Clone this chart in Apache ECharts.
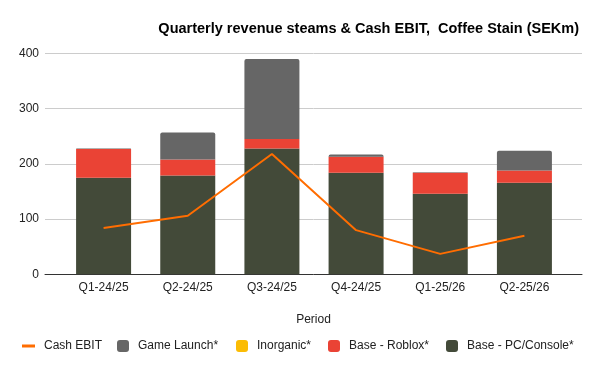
<!DOCTYPE html>
<html>
<head>
<meta charset="utf-8">
<script src="https://cdn.jsdelivr.net/npm/echarts@6/dist/echarts.min.js"></script>
<style>html,body{margin:0;padding:0;background:#fff}#c{width:600px;height:371px}</style>
</head>
<body>
<div id="c"></div>
<script>
const categories = ['Q1-24/25','Q2-24/25','Q3-24/25','Q4-24/25','Q1-25/26','Q2-25/26'];
const basePC = [175, 179, 228, 184, 146, 166];
const baseRoblox = [52, 29, 17, 29, 38, 22];
const inorganic = [0, 0, 0, 0, 0, 0];
const gameLaunch = [1, 49, 145, 4, 1, 36];
const cashEBIT = [84, 106, 218, 80, 37, 70];
const yTicks = [0, 100, 200, 300, 400];

const FONT = 'Liberation Sans, Arial, sans-serif';
const chart = echarts.init(document.getElementById('c'), null, {renderer: 'canvas'});

function lg(name, left, icon, w, h) {
  return {
    data: [name], left: left, top: 340, icon: icon, itemWidth: w, itemHeight: h,
    selectedMode: false, padding: 0,
    textStyle: {fontFamily: FONT, fontSize: 12, color: '#222', padding: [0, 0, 0, 4]}
  };
}

chart.setOption({
  animation: false,
  title: {
    text: 'Quarterly revenue steams & Cash EBIT,  Coffee Stain (SEKm)',
    right: 16, top: 16,
    textStyle: {fontFamily: FONT, fontSize: 14.5, fontWeight: 'bold', color: '#000'}
  },
  legend: [
    lg('Cash EBIT', 22, 'rect', 13, 3),
    lg('Game Launch*', 117, 'roundRect', 12, 12),
    lg('Inorganic*', 236, 'roundRect', 12, 12),
    lg('Base - Roblox*', 328, 'roundRect', 12, 12),
    lg('Base - PC/Console*', 446, 'roundRect', 12, 12)
  ],
  grid: [
    {left: 45, right: 18, top: 53.5, bottom: 96.7},
    {left: 61.5, right: 33.5, top: 53.5, bottom: 96.7}
  ],
  xAxis: [
    {gridIndex: 0, type: 'value', min: 0, max: 1, axisLabel: {show: false}, axisTick: {show: false},
     splitLine: {show: false}, axisLine: {show: true, lineStyle: {color: '#333', width: 1}},
     name: 'Period', nameLocation: 'middle', nameGap: 39,
     nameTextStyle: {fontFamily: FONT, fontSize: 12, color: '#222'}},
    {gridIndex: 1, type: 'category', data: categories, axisLine: {show: false}, axisTick: {show: false},
     axisLabel: {fontFamily: FONT, fontSize: 12, color: '#222', margin: 7}}
  ],
  yAxis: [
    {gridIndex: 0, type: 'value', min: yTicks[0], max: yTicks[yTicks.length - 1], interval: 100,
     axisLine: {show: false}, axisTick: {show: false},
     axisLabel: {fontFamily: FONT, fontSize: 12, color: '#222', margin: 6},
     splitLine: {lineStyle: {color: '#cccccc', width: 1}}},
    {gridIndex: 1, type: 'value', min: yTicks[0], max: yTicks[yTicks.length - 1], interval: 100, show: false}
  ],
  series: [
    {name: 'Base - PC/Console*', type: 'bar', stack: 's', xAxisIndex: 1, yAxisIndex: 1, barWidth: 55,
     data: basePC, itemStyle: {color: '#434a39'}},
    {name: 'Base - Roblox*', type: 'bar', stack: 's', xAxisIndex: 1, yAxisIndex: 1, barWidth: 55,
     data: baseRoblox, itemStyle: {color: '#ea4335'}},
    {name: 'Inorganic*', type: 'bar', stack: 's', xAxisIndex: 1, yAxisIndex: 1, barWidth: 55,
     data: inorganic, itemStyle: {color: '#fbbc04'}},
    {name: 'Game Launch*', type: 'bar', stack: 's', xAxisIndex: 1, yAxisIndex: 1, barWidth: 55,
     data: gameLaunch, itemStyle: {color: '#666666', borderRadius: [2, 2, 0, 0]}},
    {name: 'Cash EBIT', type: 'line', xAxisIndex: 1, yAxisIndex: 1, data: cashEBIT,
     symbol: 'none', lineStyle: {color: '#ff6d01', width: 2}, itemStyle: {color: '#ff6d01'}, z: 5}
  ]
});
</script>
</body>
</html>
